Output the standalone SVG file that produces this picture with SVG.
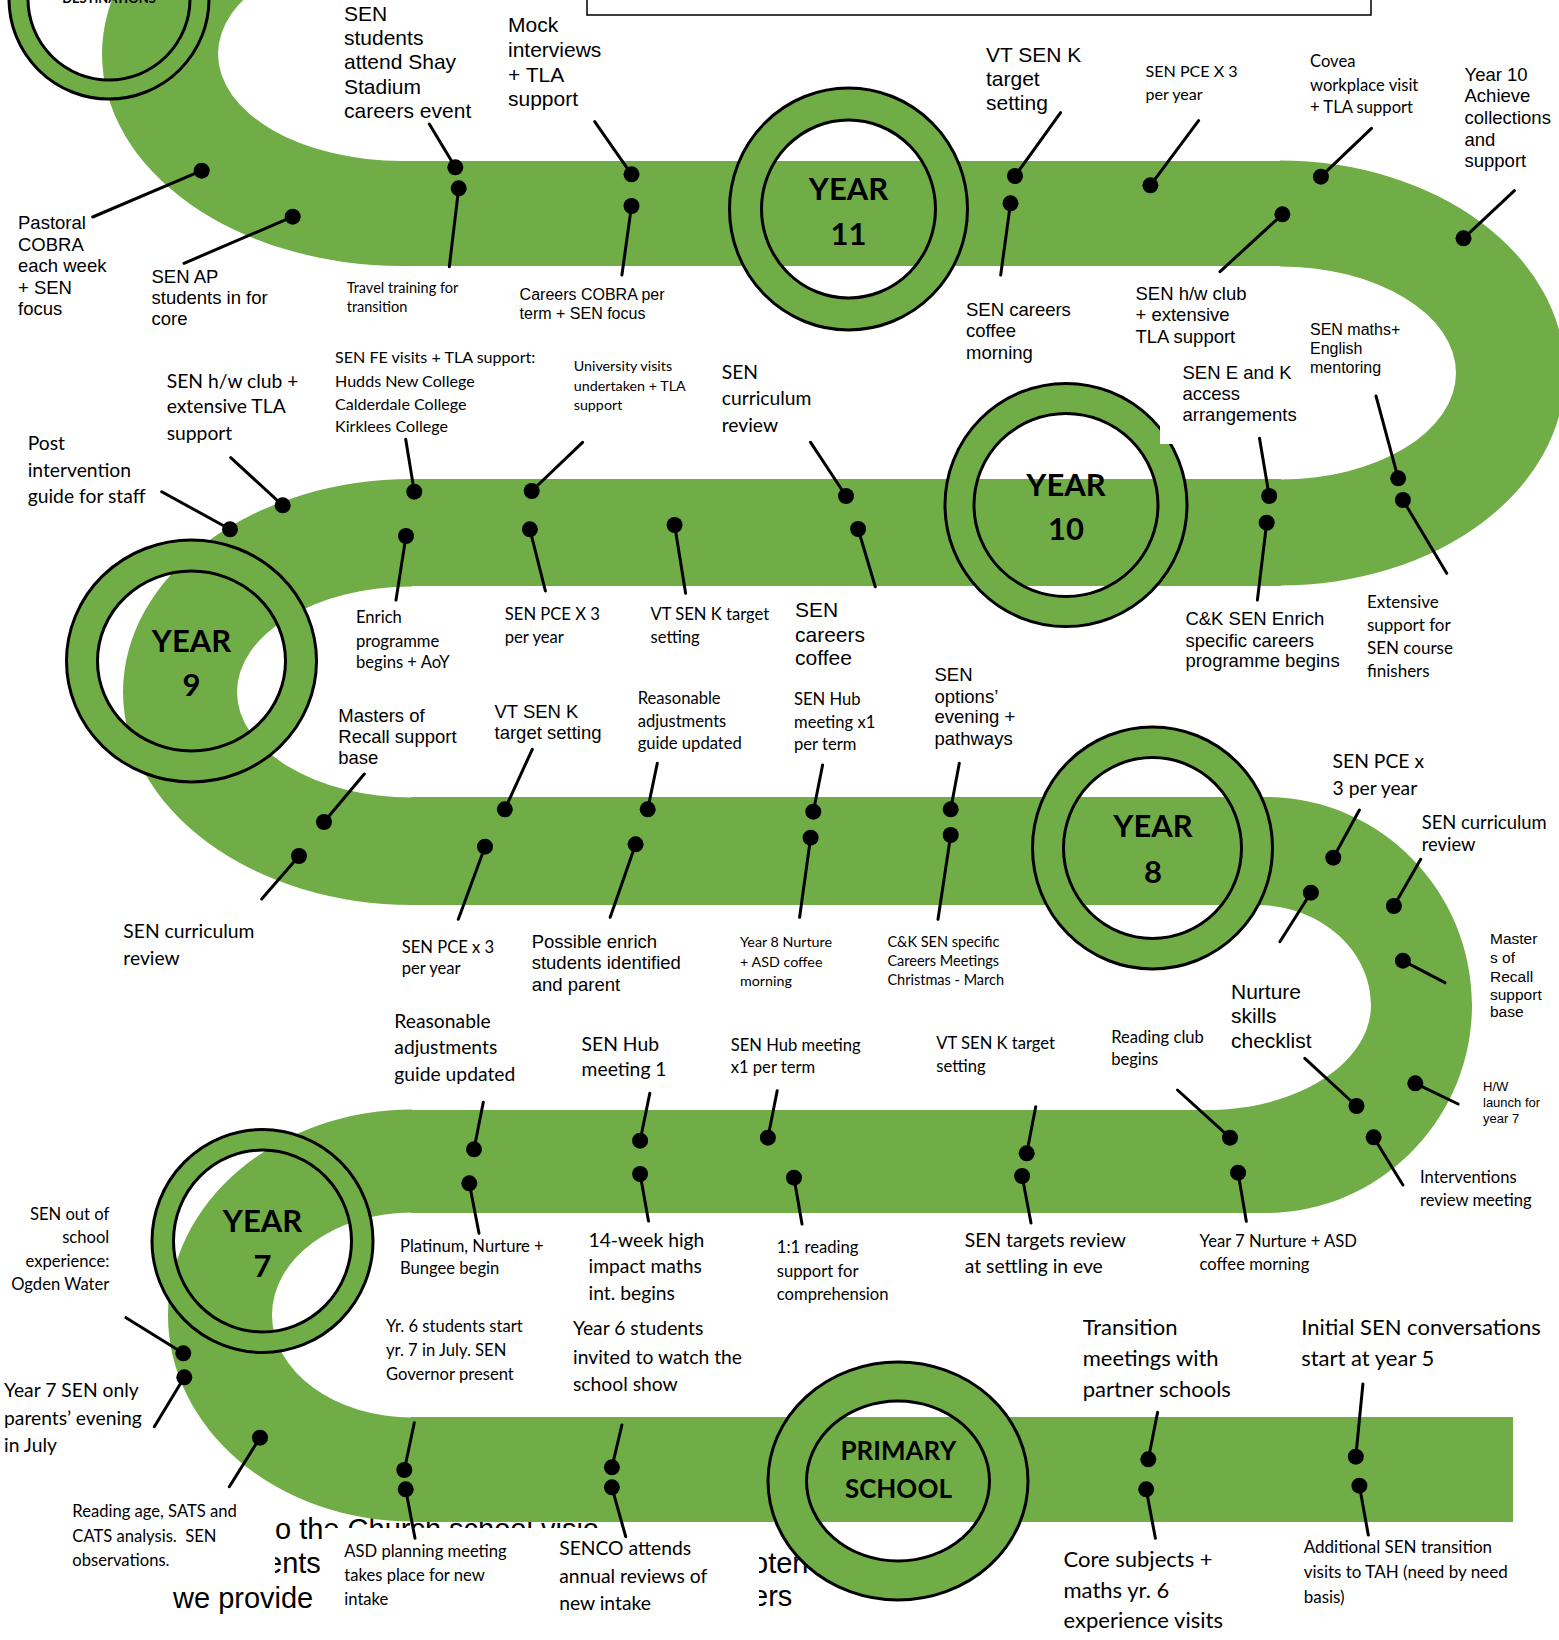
<svg xmlns="http://www.w3.org/2000/svg" width="1559" height="1640" viewBox="0 0 1559 1640">
<style>
.band{fill:#70ad47}
.ring{fill:#70ad47;fill-rule:evenodd;stroke:#000;stroke-width:3}
.a{font-family:"Liberation Sans",Arial,sans-serif;fill:#000}
.c{font-family:Lato,"Open Sans",sans-serif;fill:#000}
.yr{font-family:Lato,"Open Sans",sans-serif;font-weight:bold;text-anchor:middle;font-size:31px;fill:#000}
.ps{font-size:26px}
.dn{font-size:13px}
.ln{stroke:#000;stroke-width:3;stroke-linecap:round;fill:none}
.dot{fill:#000}
</style>
<defs>
<clipPath id="fragclip">
<rect x="275" y="1500" width="48" height="115"/>
<rect x="323" y="1500" width="340" height="28"/>
<rect x="170" y="1592" width="105" height="23"/>
<rect x="759" y="1540" width="80" height="75"/>
</clipPath>
</defs>
<rect width="1559" height="1640" fill="#fff"/>

<g id="background-fragments" clip-path="url(#fragclip)" class="a" font-size="29">
<text x="275" y="1539">o the Church school visio</text>
<text x="266" y="1573">ents</text>
<text x="173" y="1608">we provide</text>
<text x="752" y="1573">oten</text>
<text x="752" y="1606">ers</text>
</g>

<g id="track">
<path class="band" d="M402,-158 A300,212 0 0 0 402,266 L402,161 A184,107 0 0 1 402,-53 Z"/>
<rect class="band" x="401" y="161" width="880" height="105"/>
<path class="band" d="M1280,160.5 A285,212.5 0 0 1 1280,585.5 L1280,479.5 A176,106.5 0 0 0 1280,266.5 Z"/>
<rect class="band" x="411" y="479" width="870" height="107"/>
<path class="band" d="M412,479 A289,213 0 0 0 412,905 L412,797.5 A175,105.5 0 0 1 412,586.5 Z"/>
<rect class="band" x="411" y="797" width="857" height="108"/>
<path class="band" d="M1266,797 C1379,797 1472,890 1472,1005 C1472,1120 1379,1213 1266,1213 L1207,1213 L1207,1110 C1297.6,1110 1371,1063 1371,1005 C1371,949.8 1320,905 1257,905 L1266,905 Z"/>
<rect class="band" x="411" y="1110" width="857" height="103"/>
<path class="band" d="M412,1109.5 A244,206 0 0 0 412,1521.5 L412,1417.5 A140,102.5 0 0 1 412,1212.5 Z"/>
<rect class="band" x="411" y="1417" width="1102" height="105"/>
</g>

<rect id="top-box" x="587" y="-5" width="784" height="20" fill="#fff" stroke="#000" stroke-width="1.5"/>

<g id="destinations">
<path class="ring" d="M9,-1 a100,100 0 1 0 200,0 a100,100 0 1 0 -200,0 Z M28,-1 a81,81 0 1 0 162,0 a81,81 0 1 0 -162,0 Z"/>
<text class="yr dn" x="109" y="3">DESTINATIONS</text>
</g>
<g id="year11">
<path class="ring" d="M729.5,209 a119,121 0 1 0 238,0 a119,121 0 1 0 -238,0 Z M761.5,209 a87,89 0 1 0 174,0 a87,89 0 1 0 -174,0 Z"/>
<text class="yr" x="848.5" y="200">YEAR</text><text class="yr" x="848.5" y="245">11</text>
</g>
<g id="year10">
<path class="ring" d="M945,505 a121,121.5 0 1 0 242,0 a121,121.5 0 1 0 -242,0 Z M974,505 a92,91.5 0 1 0 184,0 a92,91.5 0 1 0 -184,0 Z"/>
<text class="yr" x="1066" y="496">YEAR</text><text class="yr" x="1066" y="540">10</text>
</g>
<g id="year9">
<path class="ring" d="M66.5,661 a125,121 0 1 0 250,0 a125,121 0 1 0 -250,0 Z M97.5,661 a94,90 0 1 0 188,0 a94,90 0 1 0 -188,0 Z"/>
<text class="yr" x="191.5" y="652">YEAR</text><text class="yr" x="191.5" y="696">9</text>
</g>
<g id="year8">
<path class="ring" d="M1032.5,848 a120,121 0 1 0 240,0 a120,121 0 1 0 -240,0 Z M1063.5,848 a89,90.5 0 1 0 178,0 a89,90.5 0 1 0 -178,0 Z"/>
<text class="yr" x="1153" y="837">YEAR</text><text class="yr" x="1153" y="882.5">8</text>
</g>
<g id="year7">
<path class="ring" d="M152,1241 a110.5,111.5 0 1 0 221,0 a110.5,111.5 0 1 0 -221,0 Z M173.5,1241 a89,91 0 1 0 178,0 a89,91 0 1 0 -178,0 Z"/>
<text class="yr" x="262.5" y="1232">YEAR</text><text class="yr" x="262.5" y="1277">7</text>
</g>
<g id="primary">
<path class="ring" d="M768,1481 a130,119 0 1 0 260,0 a130,119 0 1 0 -260,0 Z M806.5,1481 a91.5,80 0 1 0 183,0 a91.5,80 0 1 0 -183,0 Z"/>
<text class="yr ps" x="898.4" y="1460">PRIMARY</text><text class="yr ps" x="898.4" y="1498.3">SCHOOL</text>
</g>

<g id="labels">
<g id="l-pastoral"><text class="a" font-size="18.5"><tspan x="18" y="229">Pastoral</tspan><tspan x="18" y="250.5">COBRA</tspan><tspan x="18" y="272">each week</tspan><tspan x="18" y="293.5">+ SEN</tspan><tspan x="18" y="315">focus</tspan></text></g>
<g id="l-senap"><text class="a" font-size="18.5"><tspan x="151.5" y="282.7">SEN AP</tspan><tspan x="151.5" y="304">students in for</tspan><tspan x="151.5" y="325.3">core</tspan></text></g>
<g id="l-shay"><text class="a" font-size="21"><tspan x="344" y="20.7">SEN</tspan><tspan x="344" y="45">students</tspan><tspan x="344" y="69.3">attend Shay</tspan><tspan x="344" y="94">Stadium</tspan><tspan x="344" y="118.3">careers event</tspan></text></g>
<g id="l-travel"><text class="c" font-size="14.5"><tspan x="346.7" y="293.3">Travel training for</tspan><tspan x="346.7" y="312.3">transition</tspan></text></g>
<g id="l-mock"><text class="a" font-size="21"><tspan x="508" y="32.3">Mock</tspan><tspan x="508" y="57">interviews</tspan><tspan x="508" y="81.5">+ TLA</tspan><tspan x="508" y="106">support</tspan></text></g>
<g id="l-careerscobra"><text class="a" font-size="16"><tspan x="519.6" y="300">Careers COBRA per</tspan><tspan x="519.6" y="319.3">term + SEN focus</tspan></text></g>
<g id="l-vt11"><text class="a" font-size="21"><tspan x="986" y="61.7">VT SEN K</tspan><tspan x="986" y="86">target</tspan><tspan x="986" y="110.3">setting</tspan></text></g>
<g id="l-careerscoffee11"><text class="a" font-size="18.5"><tspan x="966" y="316">SEN careers</tspan><tspan x="966" y="337.3">coffee</tspan><tspan x="966" y="358.5">morning</tspan></text></g>
<g id="l-pce11"><text class="c" font-size="16.1"><tspan x="1145.5" y="76.7">SEN PCE X 3</tspan><tspan x="1145.5" y="100">per year</tspan></text></g>
<g id="l-covea"><text class="c" font-size="16.6"><tspan x="1310" y="67.3">Covea</tspan><tspan x="1310" y="90.7">workplace visit</tspan><tspan x="1310" y="113.3">+ TLA support</tspan></text></g>
<g id="l-achieve"><text class="a" font-size="18.5"><tspan x="1464.5" y="81">Year 10</tspan><tspan x="1464.5" y="102">Achieve</tspan><tspan x="1464.5" y="124">collections</tspan><tspan x="1464.5" y="145.5">and</tspan><tspan x="1464.5" y="167">support</tspan></text></g>
<g id="l-hwclub11"><text class="a" font-size="18.5"><tspan x="1135.5" y="300">SEN h/w club</tspan><tspan x="1135.5" y="321">+ extensive</tspan><tspan x="1135.5" y="342.7">TLA support</tspan></text></g>
<g id="l-maths"><text class="a" font-size="16"><tspan x="1310" y="335">SEN maths+</tspan><tspan x="1310" y="354">English</tspan><tspan x="1310" y="373.3">mentoring</tspan></text></g>

<g id="l-hwclub10"><text class="c" font-size="19.3"><tspan x="166.7" y="388.3">SEN h/w club +</tspan><tspan x="166.7" y="413.3">extensive TLA</tspan><tspan x="166.7" y="440">support</tspan></text></g>
<g id="l-post"><text class="c" font-size="19.3"><tspan x="27.7" y="450">Post</tspan><tspan x="27.7" y="476.7">intervention</tspan><tspan x="27.7" y="502.7">guide for staff</tspan></text></g>
<g id="l-fe"><text class="c" font-size="16.1"><tspan x="335" y="363.3">SEN FE visits + TLA support:</tspan><tspan x="335" y="386.7">Hudds New College</tspan><tspan x="335" y="410">Calderdale College</tspan><tspan x="335" y="432.3">Kirklees College</tspan></text></g>
<g id="l-uni"><text class="c" font-size="14.3"><tspan x="573.7" y="371">University visits</tspan><tspan x="573.7" y="391">undertaken + TLA</tspan><tspan x="573.7" y="410">support</tspan></text></g>
<g id="l-curr10"><text class="c" font-size="19.3"><tspan x="721.7" y="379.3">SEN</tspan><tspan x="721.7" y="405">curriculum</tspan><tspan x="721.7" y="431.7">review</tspan></text></g>
<g id="l-eandk">
<rect x="1160" y="358" width="130" height="86" fill="#fff"/>
<text class="a" font-size="18.5"><tspan x="1182.5" y="379">SEN E and K</tspan><tspan x="1182.5" y="400">access</tspan><tspan x="1182.5" y="420.7">arrangements</tspan></text></g>
<g id="l-enrich"><text class="c" font-size="16.6"><tspan x="356" y="623.3">Enrich</tspan><tspan x="356" y="646.7">programme</tspan><tspan x="356" y="668.3">begins + AoY</tspan></text></g>
<g id="l-pce10"><text class="c" font-size="16.6"><tspan x="504.8" y="620">SEN PCE X 3</tspan><tspan x="504.8" y="643.3">per year</tspan></text></g>
<g id="l-vt10"><text class="c" font-size="16.6"><tspan x="650.5" y="620">VT SEN K target</tspan><tspan x="650.5" y="643.3">setting</tspan></text></g>
<g id="l-careerscoffee10"><text class="a" font-size="21"><tspan x="795" y="616.7">SEN</tspan><tspan x="795" y="641.7">careers</tspan><tspan x="795" y="665">coffee</tspan></text></g>
<g id="l-ckenrich"><text class="a" font-size="18.5"><tspan x="1185.4" y="625">C&amp;K SEN Enrich</tspan><tspan x="1185.4" y="646.7">specific careers</tspan><tspan x="1185.4" y="667.3">programme begins</tspan></text></g>
<g id="l-extensive"><text class="c" font-size="17"><tspan x="1367" y="608">Extensive</tspan><tspan x="1367" y="631">support for</tspan><tspan x="1367" y="654">SEN course</tspan><tspan x="1367" y="677">finishers</tspan></text></g>

<g id="l-masters9"><text class="a" font-size="18.5"><tspan x="338.3" y="721.7">Masters of</tspan><tspan x="338.3" y="743.3">Recall support</tspan><tspan x="338.3" y="764">base</tspan></text></g>
<g id="l-vt9"><text class="a" font-size="18.5"><tspan x="494.5" y="718.3">VT SEN K</tspan><tspan x="494.5" y="739.3">target setting</tspan></text></g>
<g id="l-reason9"><text class="c" font-size="16.6"><tspan x="637.7" y="704">Reasonable</tspan><tspan x="637.7" y="726.7">adjustments</tspan><tspan x="637.7" y="749.3">guide updated</tspan></text></g>
<g id="l-hub9"><text class="c" font-size="16.6"><tspan x="794" y="705">SEN Hub</tspan><tspan x="794" y="727.7">meeting x1</tspan><tspan x="794" y="750">per term</tspan></text></g>
<g id="l-options"><text class="a" font-size="18.5"><tspan x="934.5" y="681">SEN</tspan><tspan x="934.5" y="702.7">options’</tspan><tspan x="934.5" y="723.3">evening +</tspan><tspan x="934.5" y="745">pathways</tspan></text></g>
<g id="l-curr9"><text class="c" font-size="19.3"><tspan x="123.3" y="938.3">SEN curriculum</tspan><tspan x="123.3" y="965">review</tspan></text></g>
<g id="l-pce9"><text class="c" font-size="16.6"><tspan x="401.7" y="952.7">SEN PCE x 3</tspan><tspan x="401.7" y="974">per year</tspan></text></g>
<g id="l-possible"><text class="a" font-size="18.5"><tspan x="531.7" y="947.7">Possible enrich</tspan><tspan x="531.7" y="969">students identified</tspan><tspan x="531.7" y="990.7">and parent</tspan></text></g>
<g id="l-y8nurture"><text class="c" font-size="14.3"><tspan x="740" y="946.7">Year 8 Nurture</tspan><tspan x="740" y="966.7">+ ASD coffee</tspan><tspan x="740" y="986">morning</tspan></text></g>
<g id="l-ckspecific"><text class="c" font-size="14.5"><tspan x="887.4" y="946.7">C&amp;K SEN specific</tspan><tspan x="887.4" y="965.7">Careers Meetings</tspan><tspan x="887.4" y="985">Christmas - March</tspan></text></g>
<g id="l-pce8"><text class="c" font-size="19.3"><tspan x="1332.6" y="768.3">SEN PCE x</tspan><tspan x="1332.6" y="795">3 per year</tspan></text></g>
<g id="l-curr8"><text class="c" font-size="18.4"><tspan x="1421.7" y="829.3">SEN curriculum</tspan><tspan x="1421.7" y="851">review</tspan></text></g>
<g id="l-masters8"><text class="a" font-size="15.5"><tspan x="1490" y="944">Master</tspan><tspan x="1490" y="962.7">s of</tspan><tspan x="1490" y="981.7">Recall</tspan><tspan x="1490" y="1000">support</tspan><tspan x="1490" y="1017.3">base</tspan></text></g>
<g id="l-hw"><text class="a" font-size="13"><tspan x="1483" y="1091">H/W</tspan><tspan x="1483" y="1107.3">launch for</tspan><tspan x="1483" y="1122.7">year 7</tspan></text></g>
<g id="l-nurture"><text class="a" font-size="21"><tspan x="1231" y="999.3">Nurture</tspan><tspan x="1231" y="1023">skills</tspan><tspan x="1231" y="1048">checklist</tspan></text></g>
<g id="l-interventions"><text class="c" font-size="16.6"><tspan x="1420" y="1183.3">Interventions</tspan><tspan x="1420" y="1206">review meeting</tspan></text></g>
<g id="l-readingclub"><text class="c" font-size="16.6"><tspan x="1111.2" y="1043.3">Reading club</tspan><tspan x="1111.2" y="1065">begins</tspan></text></g>

<g id="l-reason7"><text class="c" font-size="19.3"><tspan x="394.3" y="1027.7">Reasonable</tspan><tspan x="394.3" y="1054.3">adjustments</tspan><tspan x="394.3" y="1081">guide updated</tspan></text></g>
<g id="l-hub1"><text class="c" font-size="19.3"><tspan x="581.6" y="1050.7">SEN Hub</tspan><tspan x="581.6" y="1076">meeting 1</tspan></text></g>
<g id="l-hub7"><text class="c" font-size="16.6"><tspan x="730.7" y="1050.7">SEN Hub meeting</tspan><tspan x="730.7" y="1073.3">x1 per term</tspan></text></g>
<g id="l-vt7"><text class="c" font-size="16.6"><tspan x="936.3" y="1049.3">VT SEN K target</tspan><tspan x="936.3" y="1071.7">setting</tspan></text></g>
<g id="l-platinum"><text class="c" font-size="16.6"><tspan x="400" y="1252.3">Platinum, Nurture +</tspan><tspan x="400" y="1274.3">Bungee begin</tspan></text></g>
<g id="l-14week"><text class="c" font-size="19.3"><tspan x="588.5" y="1247.3">14-week high</tspan><tspan x="588.5" y="1273.3">impact maths</tspan><tspan x="588.5" y="1300">int. begins</tspan></text></g>
<g id="l-reading11"><text class="c" font-size="16.6"><tspan x="776.8" y="1253.3">1:1 reading</tspan><tspan x="776.8" y="1276.7">support for</tspan><tspan x="776.8" y="1300">comprehension</tspan></text></g>
<g id="l-targets"><text class="c" font-size="19.3"><tspan x="964.8" y="1247">SEN targets review</tspan><tspan x="964.8" y="1273">at settling in eve</tspan></text></g>
<g id="l-y7nurture"><text class="c" font-size="16.6"><tspan x="1199.6" y="1247.3">Year 7 Nurture + ASD</tspan><tspan x="1199.6" y="1270">coffee morning</tspan></text></g>
<g id="l-outofschool"><text class="c" font-size="16.6" text-anchor="end"><tspan x="109.3" y="1220">SEN out of</tspan><tspan x="109.3" y="1243.3">school</tspan><tspan x="109.3" y="1266.7">experience:</tspan><tspan x="109.3" y="1290">Ogden Water</tspan></text></g>
<g id="l-parents"><text class="c" font-size="19.3"><tspan x="4" y="1396.7">Year 7 SEN only</tspan><tspan x="4" y="1425">parents’ evening</tspan><tspan x="4" y="1452.3">in July</tspan></text></g>
<g id="l-readingage"><text class="c" font-size="16.6"><tspan x="72.3" y="1516.7">Reading age, SATS and</tspan><tspan x="72.3" y="1541.7">CATS analysis.&#160; SEN</tspan><tspan x="72.3" y="1566">observations.</tspan></text></g>
<g id="l-yr6start"><text class="c" font-size="16.6"><tspan x="386" y="1331.7">Yr. 6 students start</tspan><tspan x="386" y="1356">yr. 7 in July. SEN</tspan><tspan x="386" y="1380">Governor present</tspan></text></g>
<g id="l-yr6show"><text class="c" font-size="19.3"><tspan x="573" y="1335">Year 6 students</tspan><tspan x="573" y="1363.5">invited to watch the</tspan><tspan x="573" y="1390.7">school show</tspan></text></g>
<g id="l-asd"><text class="c" font-size="16.6"><tspan x="344.3" y="1556.7">ASD planning meeting</tspan><tspan x="344.3" y="1581">takes place for new</tspan><tspan x="344.3" y="1605">intake</tspan></text></g>
<g id="l-senco"><text class="c" font-size="19.3"><tspan x="559.2" y="1555">SENCO attends</tspan><tspan x="559.2" y="1582.7">annual reviews of</tspan><tspan x="559.2" y="1610">new intake</tspan></text></g>
<g id="l-transition"><text class="c" font-size="22"><tspan x="1082.7" y="1335">Transition</tspan><tspan x="1082.7" y="1365.7">meetings with</tspan><tspan x="1082.7" y="1396.7">partner schools</tspan></text></g>
<g id="l-initial"><text class="c" font-size="22"><tspan x="1301.2" y="1335">Initial SEN conversations</tspan><tspan x="1301.2" y="1365.7">start at year 5</tspan></text></g>
<g id="l-core"><text class="c" font-size="22"><tspan x="1063.5" y="1566.7">Core subjects +</tspan><tspan x="1063.5" y="1598">maths yr. 6</tspan><tspan x="1063.5" y="1628.3">experience visits</tspan></text></g>
<g id="l-additional"><text class="c" font-size="17"><tspan x="1303.7" y="1553.3">Additional SEN transition</tspan><tspan x="1303.7" y="1578.3">visits to TAH (need by need</tspan><tspan x="1303.7" y="1602.7">basis)</tspan></text></g>
</g>

<g id="connectors">
<path class="ln" d="M92.7,217L201.7,170.7M184,263.3L292.7,216.7M429.3,124L455.3,167.3M458.7,188.3L449.3,266.7M594.7,121.7L631.5,174.3M631.5,206L621.9,275M1060.6,112.7L1015,176M1010.5,203.3L1000.7,275M1198.6,120.7L1150.4,185.3M1371.5,128.3L1320.9,176.7M1514.4,190.7L1463.5,238.3M1220,271.7L1282.4,214.3M1376,396L1398.2,478.3M1402.9,500L1446.7,573.3"/>
<path class="ln" d="M230.7,457.7L282.7,505.3M161.7,491.7L230,529.3M405.7,439.3L414.3,491.7M406,536L396,600M582.6,442.3L531.7,491M529.9,529.3L545.4,591M674.6,525L685.6,593.3M810.6,442.3L846,496M858.1,529L875.3,586.7M1259.5,438.3L1269.2,496M1266.7,522.7L1257.4,600"/>
<path class="ln" d="M364.3,774L324,822M299,856L261.7,899M532.3,749.3L504.8,809.3M485,846.7L458.3,919.3M657.3,763.3L647.7,809.3M635.6,844.3L610.2,917.3M822.6,765L813.3,811.7M810.6,837.7L799.6,917.3M959.3,763.3L950.7,809.3M950.7,835L938,919.3"/>
<path class="ln" d="M1359.4,810L1333.3,857.7M1310.9,892.7L1279.9,941.7M1420.7,859.3L1393.9,906M1444.9,982.7L1402.9,960.7M1458.1,1104L1415.3,1083.3M1304.8,1058.3L1356.5,1106M1402.9,1185L1373.6,1137.3M1177.5,1090L1230,1137.7M1238.1,1172.7L1246.3,1221.3"/>
<path class="ln" d="M483.3,1102.3L474,1149.3M469.3,1183.3L479,1233.3M649.8,1093.3L640.1,1140.7M640.1,1174L648.5,1221M777.2,1090.7L767.9,1137.7M794,1177.7L802,1224M1035.7,1106.7L1026.7,1153.3M1022.1,1176L1031,1223"/>
<path class="ln" d="M126,1317.7L183.3,1353.3M154.3,1426.7L184.3,1377.3M229.3,1486.7L260,1437.7M414.3,1422.7L404.3,1470M405.7,1489.3L415,1538.3M621.9,1425L611.9,1467.3M611.9,1487.3L625.7,1536.7M1157.6,1412.3L1148.3,1459.3M1146.2,1489.3L1155.4,1538.3M1362.9,1384L1355.8,1456.7M1359.4,1485.7L1368.3,1535"/>
<g class="dot">
<circle cx="201.7" cy="170.7" r="8"/><circle cx="292.7" cy="216.7" r="8"/><circle cx="455.3" cy="167.3" r="8"/><circle cx="458.7" cy="188.3" r="8"/><circle cx="631.5" cy="174.3" r="8"/><circle cx="631.5" cy="206" r="8"/><circle cx="1015" cy="176" r="8"/><circle cx="1010.5" cy="203.3" r="8"/><circle cx="1150.4" cy="185.3" r="8"/><circle cx="1320.9" cy="176.7" r="8"/><circle cx="1463.5" cy="238.3" r="8"/><circle cx="1282.4" cy="214.3" r="8"/><circle cx="1398.2" cy="478.3" r="8"/><circle cx="1402.9" cy="500" r="8"/>
<circle cx="282.7" cy="505.3" r="8"/><circle cx="230" cy="529.3" r="8"/><circle cx="414.3" cy="491.7" r="8"/><circle cx="406" cy="536" r="8"/><circle cx="531.7" cy="491" r="8"/><circle cx="529.9" cy="529.3" r="8"/><circle cx="674.6" cy="525" r="8"/><circle cx="846" cy="496" r="8"/><circle cx="858.1" cy="529" r="8"/><circle cx="1269.2" cy="496" r="8"/><circle cx="1266.7" cy="522.7" r="8"/>
<circle cx="324" cy="822" r="8"/><circle cx="299" cy="856" r="8"/><circle cx="504.8" cy="809.3" r="8"/><circle cx="485" cy="846.7" r="8"/><circle cx="647.7" cy="809.3" r="8"/><circle cx="635.6" cy="844.3" r="8"/><circle cx="813.3" cy="811.7" r="8"/><circle cx="810.6" cy="837.7" r="8"/><circle cx="950.7" cy="809.3" r="8"/><circle cx="950.7" cy="835" r="8"/>
<circle cx="1333.3" cy="857.7" r="8"/><circle cx="1310.9" cy="892.7" r="8"/><circle cx="1393.9" cy="906" r="8"/><circle cx="1402.9" cy="960.7" r="8"/><circle cx="1415.3" cy="1083.3" r="8"/><circle cx="1356.5" cy="1106" r="8"/><circle cx="1373.6" cy="1137.3" r="8"/><circle cx="1230" cy="1137.7" r="8"/><circle cx="1238.1" cy="1172.7" r="8"/>
<circle cx="474" cy="1149.3" r="8"/><circle cx="469.3" cy="1183.3" r="8"/><circle cx="640.1" cy="1140.7" r="8"/><circle cx="640.1" cy="1174" r="8"/><circle cx="767.9" cy="1137.7" r="8"/><circle cx="794" cy="1177.7" r="8"/><circle cx="1026.7" cy="1153.3" r="8"/><circle cx="1022.1" cy="1176" r="8"/>
<circle cx="183.3" cy="1353.3" r="8"/><circle cx="184.3" cy="1377.3" r="8"/><circle cx="260" cy="1437.7" r="8"/><circle cx="404.3" cy="1470" r="8"/><circle cx="405.7" cy="1489.3" r="8"/><circle cx="611.9" cy="1467.3" r="8"/><circle cx="611.9" cy="1487.3" r="8"/><circle cx="1148.3" cy="1459.3" r="8"/><circle cx="1146.2" cy="1489.3" r="8"/><circle cx="1355.8" cy="1456.7" r="8"/><circle cx="1359.4" cy="1485.7" r="8"/>
</g>
</g>
</svg>
